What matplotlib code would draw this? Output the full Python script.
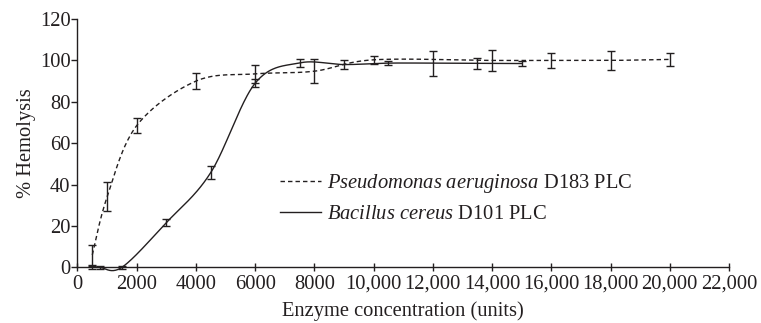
import numpy as np
import matplotlib
matplotlib.use("Agg")
import matplotlib.pyplot as plt
from matplotlib.ticker import FixedLocator

plt.rcParams['font.family'] = ['Liberation Serif', 'DejaVu Serif']
plt.rcParams['mathtext.fontset'] = 'custom'
plt.rcParams['mathtext.rm'] = 'Liberation Serif'
plt.rcParams['mathtext.it'] = 'Liberation Serif:italic'

# Data
pa_x = [500, 1000, 2000, 4000, 6000, 8000, 10000, 14000, 16000, 18000, 20000]
pa_y = [6, 34, 68.5, 90, 93.5, 94.8, 100.3, 100, 100, 100, 100.5]
pa_err = [5, 7, 3.5, 4, 4.5, 5.8, 2, 5, 3.7, 4.5, 3]

bc_x = [500, 750, 1500, 3000, 4500, 6000, 7500, 9000, 10500, 12000, 13500, 15000]
bc_y = [0, 0, 0, 21.6, 45.8, 89, 98.8, 98, 98.7, 98.7, 98.6, 98.5]
bc_err = [0.6, 0.6, 0.6, 1.8, 3.2, 2, 1.8, 2, 0.8, 6, 2.6, 1]

x_ticks = list(range(0, 22001, 2000))
x_labels = ['0', '2000', '4000', '6000', '8000', '10,000', '12,000', '14,000',
            '16,000', '18,000', '20,000', '22,000']
y_ticks = [0, 20, 40, 60, 80, 100, 120]

pa_label = r'$\mathit{Pseudomonas\ aeruginosa}$ D183 PLC'
bc_label = r'$\mathit{Bacillus\ cereus}$ D101 PLC'

INK = '#231f20'
FS = 14.8


def smooth(xs, ys, n=40):
    """Uniform Catmull-Rom (Bezier) smoothing, like spreadsheet smoothed lines."""
    P = np.column_stack([xs, ys]).astype(float)
    ext = np.vstack([P[0], P, P[-1]])
    out = []
    for i in range(1, len(ext) - 2):
        p0, p1, p2, p3 = ext[i - 1], ext[i], ext[i + 1], ext[i + 2]
        c1 = p1 + (p2 - p0) / 6.0
        c2 = p2 - (p3 - p1) / 6.0
        t = np.linspace(0, 1, n)[:, None]
        seg = ((1 - t) ** 3) * p1 + 3 * ((1 - t) ** 2) * t * c1 + 3 * (1 - t) * t ** 2 * c2 + t ** 3 * p2
        out.append(seg if i == 1 else seg[1:])
    S = np.vstack(out)
    return S[:, 0], S[:, 1]


fig = plt.figure(figsize=(7.61, 3.23), dpi=100)
ax = fig.add_axes([0.1018, 0.1724, 0.8562, 0.7686])

sx, sy = smooth(pa_x, pa_y)
ax.plot(sx, sy, color=INK, lw=1.0, linestyle=(0, (3.2, 2.2)), label=pa_label, clip_on=False)
ax.errorbar(pa_x, pa_y, yerr=pa_err, fmt='none', ecolor=INK, elinewidth=1.0,
            capsize=2.6, capthick=1.0, clip_on=False)

sx, sy = smooth(bc_x, bc_y)
ax.plot(sx, sy, color=INK, lw=1.0, linestyle='-', label=bc_label, clip_on=False)
ax.errorbar(bc_x, bc_y, yerr=bc_err, fmt='none', ecolor=INK, elinewidth=1.0,
            capsize=2.6, capthick=1.0, clip_on=False)

ax.set_xlim(0, 22000)
ax.set_ylim(0, 120)
ax.xaxis.set_major_locator(FixedLocator(x_ticks))
ax.set_xticklabels(x_labels)
ax.set_yticks(y_ticks)

for s in ['top', 'right']:
    ax.spines[s].set_visible(False)
for s in ['left', 'bottom']:
    ax.spines[s].set_color(INK)
    ax.spines[s].set_linewidth(1.0)

ax.tick_params(axis='x', direction='inout', length=6, width=1.0, colors=INK,
               labelsize=FS, pad=2.5)
ax.tick_params(axis='y', direction='out', length=4, width=1.0, colors=INK,
               labelsize=FS, pad=1)

ax.set_xlabel('Enzyme concentration (units)', fontsize=FS, color=INK, labelpad=5)
ax.set_ylabel('% Hemolysis', fontsize=FS, color=INK, labelpad=3)

leg = ax.legend(loc='upper left', bbox_to_anchor=(0.311, 0.385), frameon=False,
                fontsize=FS, handlelength=2.0, handletextpad=0.3,
                labelspacing=0.5, borderpad=0, borderaxespad=0)
for t in leg.get_texts():
    t.set_color(INK)

fig.savefig('out.png', dpi=100)
